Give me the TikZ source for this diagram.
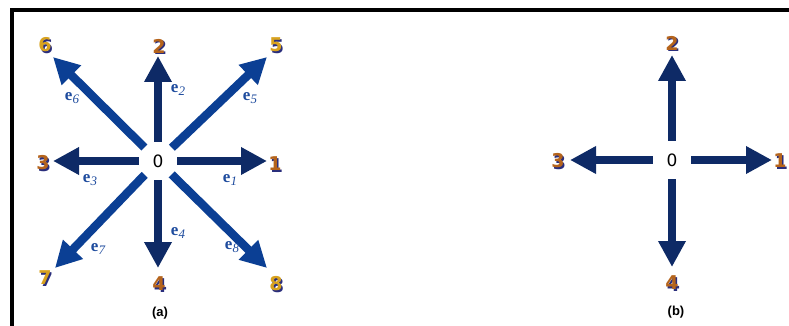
\documentclass[tikz,border=0pt]{standalone}
\usepackage{fontspec}
\setmainfont{Liberation Serif}
\setsansfont{DejaVu Sans}
\newfontfamily\capfont{Liberation Sans}
\usetikzlibrary{arrows.meta}
\definecolor{navy}{HTML}{0E2A66}
\definecolor{diagblue}{HTML}{0B3F94}
\definecolor{ebl}{HTML}{1F4C9E}
\definecolor{brn}{HTML}{B5641C}
\definecolor{gold}{HTML}{D8A21E}
\definecolor{shd}{HTML}{2A2E7C}
\tikzset{
  digit/.style={font=\sffamily\bfseries\fontsize{19}{19}\selectfont, inner sep=0pt},
  elab/.style={font=\fontsize{17}{17}\selectfont, text=ebl, inner sep=0pt},
  ctr/.style={circle, minimum size=38pt, inner sep=0pt, font=\sffamily\fontsize{17}{17}\selectfont},
  arr/.style={line width=8.5pt, -{Triangle[width=26pt,length=26pt]}},
  capt/.style={font=\capfont\bfseries\fontsize{13}{13}\selectfont, inner sep=0pt},
  frame/.style={line width=4pt, black}
}
\newcommand{\dnum}[4]{%
  \node[digit,text=shd,xshift=1.4pt,yshift=-1.4pt] at (#2) {#3};
  \node[digit,text=#4] (#1) at (#2) {#3};}
\newcommand{\elabel}[3]{%
  \node[elab] (#1) at (#2) {\bfseries e\raisebox{-3pt}{\mdseries\itshape\fontsize{13}{13}\selectfont #3}};}
\begin{document}
\begin{tikzpicture}[x=1pt,y=-1pt]
\useasboundingbox (0,0) rectangle (789,326);
% frame
\coordinate (fa) at (12,326);
\coordinate (fb) at (12,10.5);
\coordinate (fc) at (789,10.5);
\draw[frame] (fa) -- (fb) -- (fc);

% ---------- panel (a) ----------
\node[ctr] (oa) at (158,161) {0};
\coordinate (a1) at (267,161);
\coordinate (a2) at (158,56);
\coordinate (a3) at (53,161);
\coordinate (a4) at (158,268);
\coordinate (a5) at (267,57);
\coordinate (a6) at (53,57);
\coordinate (a7) at (55,268);
\coordinate (a8) at (267,268);
\draw[arr, navy] (oa) -- (a1);
\draw[arr, navy] (oa) -- (a2);
\draw[arr, navy] (oa) -- (a3);
\draw[arr, navy] (oa) -- (a4);
\draw[arr, diagblue] (oa) -- (a5);
\draw[arr, diagblue] (oa) -- (a6);
\draw[arr, diagblue] (oa) -- (a7);
\draw[arr, diagblue] (oa) -- (a8);

\dnum{n6}{45,45}{6}{gold}
\dnum{n2}{159,46}{2}{brn}
\dnum{n5}{276,45}{5}{gold}
\dnum{n3}{43,163}{3}{brn}
\dnum{n1}{275,164}{1}{brn}
\dnum{n7}{45,278}{7}{gold}
\dnum{n4}{159,284}{4}{brn}
\dnum{n8}{276,284}{8}{gold}

\elabel{e6}{72,98}{6}
\elabel{e2}{178,90}{2}
\elabel{e5}{250,98}{5}
\elabel{e3}{90,180}{3}
\elabel{e1}{230,180}{1}
\elabel{e4}{178,233}{4}
\elabel{e7}{98,249}{7}
\elabel{e8}{232,247}{8}

\node[capt] (capa) at (160,313) {(a)};

% ---------- panel (b) ----------
\node[ctr] (ob) at (672,160) {0};
\coordinate (b1) at (772,160);
\coordinate (b2) at (672,55);
\coordinate (b3) at (570,160);
\coordinate (b4) at (672,267);
\draw[arr, navy] (ob) -- (b1);
\draw[arr, navy] (ob) -- (b2);
\draw[arr, navy] (ob) -- (b3);
\draw[arr, navy] (ob) -- (b4);

\dnum{m2}{672,43}{2}{brn}
\dnum{m3}{558,161}{3}{brn}
\dnum{m1}{780,161}{1}{brn}
\dnum{m4}{672,283}{4}{brn}

\node[capt] (capb) at (676,312) {(b)};
\end{tikzpicture}
\end{document}
